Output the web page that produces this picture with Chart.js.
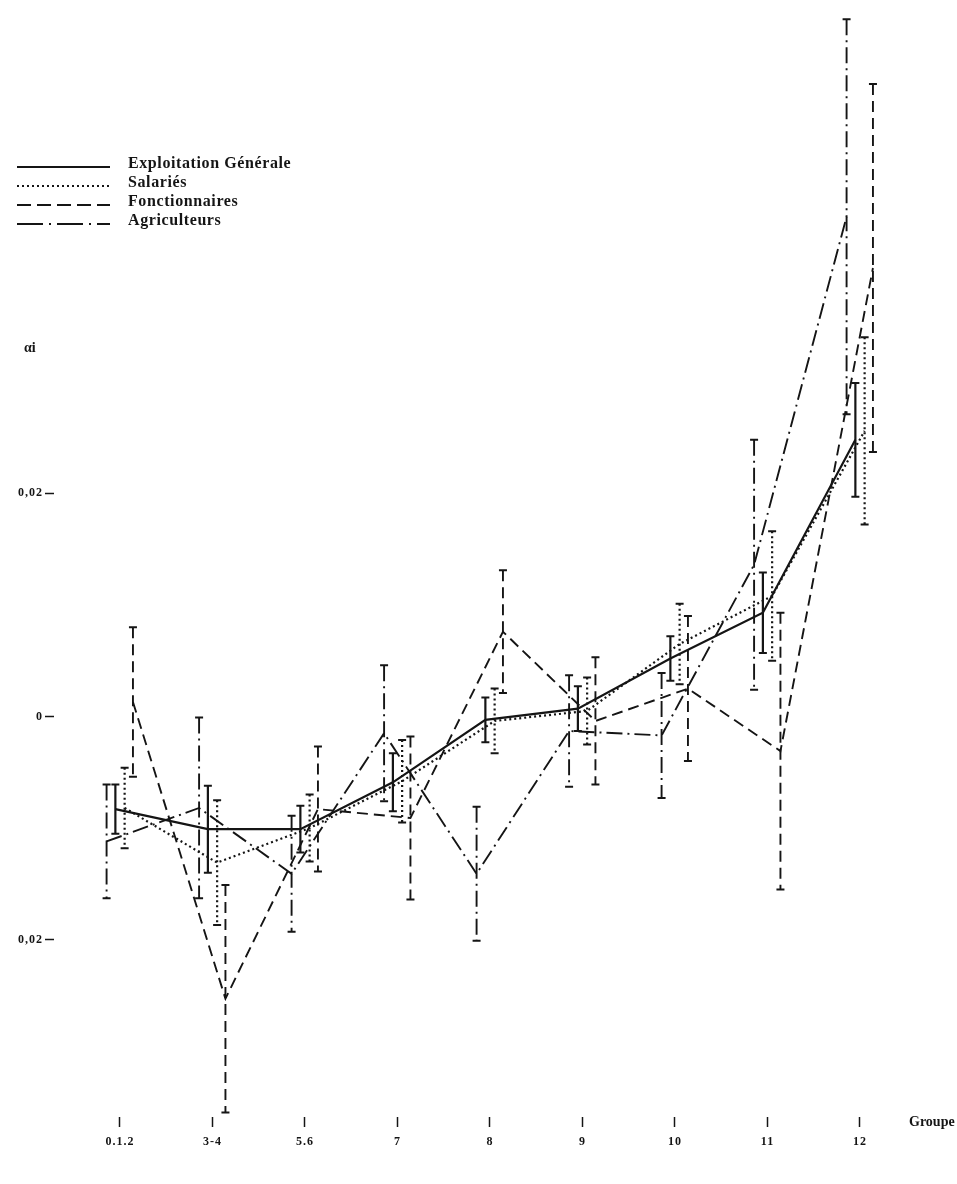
<!DOCTYPE html>
<html>
<head>
<meta charset="utf-8">
<script src="https://cdn.jsdelivr.net/npm/chart.js@4/dist/chart.umd.min.js"></script>
<style>
html, body { margin: 0; padding: 0; background: #fff; }
</style>
</head>
<body>
<canvas id="chart" width="957" height="1184"></canvas>
<script>
// groups on the x axis
const groups = ['0.1.2', '3-4', '5.6', '7', '8', '9', '10', '11', '12'];

// alpha_i estimates and half-widths of the error bars
const general = [-0.0083, -0.0101, -0.0101, -0.0059, -0.0003, 0.0007, 0.0052, 0.0093, 0.0248];
const generalErr = [0.0022, 0.0039, 0.0021, 0.0026, 0.0020, 0.0020, 0.0020, 0.0036, 0.0051];

const salaries = [-0.0082, -0.0131, -0.0100, -0.0058, -0.0004, 0.0005, 0.0065, 0.0108, 0.0256];
const salariesErr = [0.0036, 0.0056, 0.0030, 0.0037, 0.0029, 0.0030, 0.0036, 0.0058, 0.0084];

const fonctionnaires = [0.0013, -0.0253, -0.0083, -0.0091, 0.0076, -0.0004, 0.0025, -0.0031, 0.0402];
const fonctionnairesErr = [0.0067, 0.0102, 0.0056, 0.0073, 0.0055, 0.0057, 0.0065, 0.0124, 0.0165];

const agriculteurs = [-0.0112, -0.0082, -0.0141, -0.0015, -0.0141, -0.0013, -0.0017, 0.0136, 0.0448];
const agriculteursErr = [0.0051, 0.0081, 0.0052, 0.0061, 0.0060, 0.0050, 0.0056, 0.0112, 0.0177];

const yTicks = [-0.02, 0, 0.02];
const yTickLabels = ['0,02', '0', '0,02'];

const serif = '"Liberation Serif", "DejaVu Serif", serif';
const ink = '#151515';

const series = [
    { label: 'Exploitation Générale', values: general, errs: generalErr, dash: [], width: 2.2, shift: -0.05 },
    { label: 'Salariés', values: salaries, errs: salariesErr, dash: [2, 3], width: 2.2, shift: 0.05 },
    { label: 'Fonctionnaires', values: fonctionnaires, errs: fonctionnairesErr, dash: [11, 6], width: 1.9, shift: 0.14 },
    { label: 'Agriculteurs', values: agriculteurs, errs: agriculteursErr, dash: [16, 5, 2, 5], width: 1.9, shift: -0.145 }
];

const errorBars = {
    id: 'errorBars',
    afterDatasetsDraw(chart) {
        const { ctx, scales: { x, y } } = chart;
        chart.data.datasets.forEach(ds => {
            ds.data.forEach((p, i) => {
                const px = x.getPixelForValue(p.x);
                const top = y.getPixelForValue(p.y + ds.errs[i]);
                const bot = y.getPixelForValue(p.y - ds.errs[i]);
                ctx.save();
                ctx.strokeStyle = ink;
                ctx.lineWidth = ds.borderWidth;
                ctx.setLineDash(ds.borderDash);
                ctx.beginPath();
                ctx.moveTo(px, top);
                ctx.lineTo(px, bot);
                ctx.stroke();
                ctx.setLineDash([]);
                ctx.lineWidth = 2;
                ctx.beginPath();
                ctx.moveTo(px - 4, top); ctx.lineTo(px + 4, top);
                ctx.moveTo(px - 4, bot); ctx.lineTo(px + 4, bot);
                ctx.stroke();
                ctx.restore();
            });
        });
    }
};

// the scanned lettering is wide, so space the letters a little everywhere
const spacing = {
    id: 'spacing',
    beforeDraw(chart) {
        chart.ctx.letterSpacing = '1px';
    }
};

// legend block, axis names
const annotations = {
    id: 'annotations',
    afterDraw(chart) {
        const ctx = chart.ctx;
        ctx.save();
        ctx.fillStyle = ink;
        ctx.strokeStyle = ink;
        ctx.textBaseline = 'middle';
        ctx.letterSpacing = '0.6px';
        ctx.font = 'bold 16px ' + serif;
        const rows = [164, 183, 202, 221];
        const legendDash = [[], [2, 3], [14, 6], [26, 6, 2, 6]];
        series.forEach((s, i) => {
            ctx.lineWidth = 2;
            ctx.setLineDash(legendDash[i]);
            ctx.beginPath();
            ctx.moveTo(17, rows[i] + 3);
            ctx.lineTo(110, rows[i] + 3);
            ctx.stroke();
            ctx.setLineDash([]);
            ctx.fillText(s.label, 128, rows[i]);
        });
        ctx.letterSpacing = '0px';
        ctx.font = 'bold 14px ' + serif;
        ctx.fillText('αi', 24, 348);
        ctx.fillText('Groupe', 909, 1122);
        ctx.restore();
    }
};

new Chart(document.getElementById('chart'), {
    type: 'line',
    data: {
        datasets: series.map(s => ({
            label: s.label,
            data: s.values.map((v, i) => ({ x: i + s.shift, y: v })),
            errs: s.errs,
            borderColor: ink,
            borderWidth: s.width,
            borderDash: s.dash,
            pointRadius: 0,
            tension: 0,
            fill: false
        }))
    },
    options: {
        responsive: false,
        animation: false,
        layout: { padding: { top: 0, right: 7, left: 0, bottom: 0 } },
        plugins: { legend: { display: false }, tooltip: { enabled: false } },
        scales: {
            x: {
                type: 'linear',
                min: -0.7135,
                max: 8.973,
                afterFit: s => { s.height = 67; },
                afterBuildTicks: s => { s.ticks = groups.map((g, i) => ({ value: i })); },
                ticks: {
                    autoSkip: false,
                    maxRotation: 0,
                    padding: 8,
                    color: ink,
                    font: { family: serif, size: 12, weight: 'bold' },
                    callback: v => groups[v]
                },
                grid: { drawOnChartArea: false, drawTicks: true, tickLength: 10, tickColor: ink, tickWidth: 1.5 },
                border: { display: false }
            },
            y: {
                min: -0.0359,
                max: 0.0634,
                afterFit: s => { s.width = 54; },
                afterBuildTicks: s => { s.ticks = yTicks.map(v => ({ value: v })); },
                ticks: {
                    padding: 2,
                    color: ink,
                    font: { family: serif, size: 12, weight: 'bold' },
                    callback: (v, i) => yTickLabels[i]
                },
                grid: { drawOnChartArea: false, drawTicks: true, tickLength: 9, tickColor: ink, tickWidth: 1.5 },
                border: { display: false }
            }
        }
    },
    plugins: [spacing, errorBars, annotations]
});
</script>
</body>
</html>
